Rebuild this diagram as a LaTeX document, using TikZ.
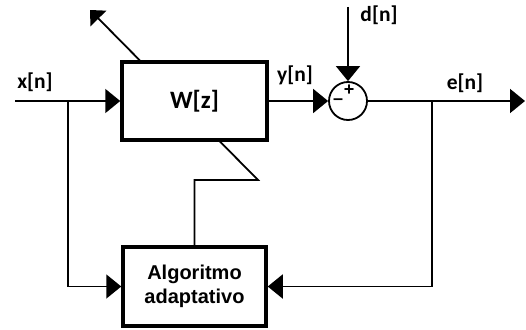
\documentclass[tikz,border=0pt]{standalone}
\usepackage{fontspec}
\setmainfont{Liberation Sans}
\newfontfamily\sigfont{Carlito}
\usetikzlibrary{
  arrows.meta,
  positioning,
  calc,
  backgrounds
}
\tikzset{
  blk/.style={
    draw, line width=3.5pt, fill=white, inner sep=0pt, align=center
  },
  filt/.style={blk, minimum width=145pt, minimum height=78pt,
    font=\sigfont\bfseries\fontsize{25}{25}\selectfont},
  adapt/.style={blk, minimum width=143pt, minimum height=79pt,
    font=\bfseries\fontsize{20}{24}\selectfont},
  summer/.style={draw, circle, line width=1.8pt, fill=white, minimum size=38pt, inner sep=0pt},
  sig/.style={line width=1.8pt},
  sigarr/.style={sig, -{Triangle[length=15pt, width=24pt]}},
  tunearr/.style={sig, -{Triangle[length=12pt, width=22pt]}},
  sglbl/.style={font=\sigfont\bfseries\fontsize{21.5}{21.5}\selectfont, inner sep=0pt},
  sgn/.style={font=\bfseries\fontsize{18}{18}\selectfont, inner sep=0pt}
}
\begin{document}
\begin{tikzpicture}[x=1pt, y=-1pt]
  \useasboundingbox (0,0) rectangle (526,329);
  \node[filt] (wz) at (194.5,101) {W[z]};
  \node[adapt] (alg) at (194.5,286.5) {Algoritmo\\adaptativo};
  \node[summer] (sum) at (348,101) {};
  \node[sgn] (plus) at (349,90) {+};
  \node[sgn] (minus) at (338,102) {--};
  % signal points
  \coordinate (xin) at (15,101);
  \coordinate (xbr) at (68,101);
  \coordinate (din) at (348,7);
  \coordinate (ebr) at (432,101);
  \coordinate (eout) at (525,101);
  \coordinate (adj) at (258,180);
  \coordinate (tip) at (90,10);
  \begin{scope}[on background layer]
    \draw[tunearr] (alg.north) |- (adj) -- (tip);
  \end{scope}
  \draw[sigarr] (xin) -- (wz.west);
  \draw[sigarr] (xbr) |- (alg.west);
  \draw[sigarr] (wz.east) -- (sum.west);
  \draw[sigarr] (din) -- (sum.north);
  \draw[sigarr] (sum.east) -- (eout);
  \draw[sigarr] (ebr) |- (alg.east);
  % labels
  \node[sglbl] (xlbl) at (35,82) {x[n]};
  \node[sglbl] (ylbl) at (295,75) {y[n]};
  \node[sglbl] (dlbl) at (379,15) {d[n]};
  \node[sglbl] (elbl) at (465,83) {e[n]};
\end{tikzpicture}
\end{document}
